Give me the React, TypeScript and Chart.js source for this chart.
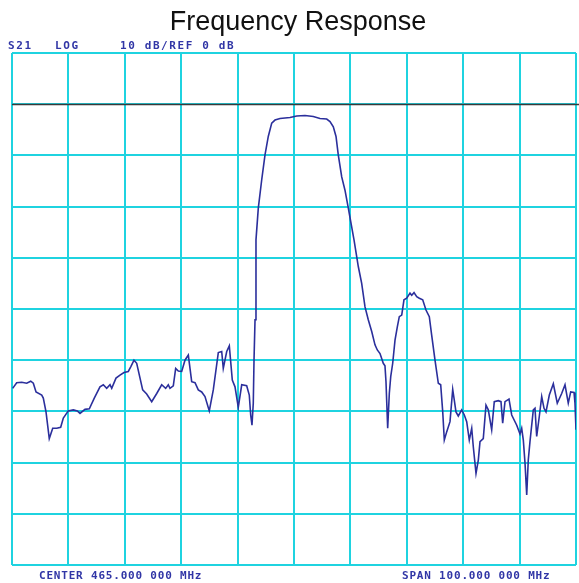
import React, { useEffect, useRef } from "react";
import { Chart, registerables } from "chart.js";

Chart.register(...registerables);

// ---- Data ----
const chartTitle = "Frequency Response";
const headerLabels = ["S21", "LOG", "10 dB/REF 0 dB"];
const footerLabels = ["CENTER 465.000 000 MHz", "SPAN 100.000 000 MHz"];

const centerMHz = 465;
const spanMHz = 100;
const refLevelDb = 0;
const dbPerDiv = 10;
const xDivisions = 10;

const freqMHz = [
  415.12, 415.83, 416.72, 417.61, 418.32, 418.78, 419.26, 420.27, 420.55, 421.03,
  421.61, 422.22, 422.93, 423.63, 424.1, 424.98, 425.87, 426.58, 427.06, 427.94,
  428.71, 429.59, 430.6, 431.19, 431.79, 432.38, 432.68, 433.44, 434.15, 434.86,
  435.62, 436.05, 436.63, 437.11, 438.17, 438.88, 439.77, 440.66, 441.54, 442.25,
  442.71, 443.01, 443.6, 444.02, 444.49, 445.09, 445.67, 446.26, 446.86, 447.45,
  448.03, 448.63, 449.22, 449.98, 450.69, 451.58, 452.18, 452.46, 453.07, 453.53,
  454.06, 454.54, 455.12, 455.73, 456.61, 457.07, 457.32, 457.55, 457.78, 457.91,
  458.09, 458.26, 458.67, 459.27, 459.86, 460.44, 461.05, 461.63, 462.52, 463.4,
  464.29, 465.48, 466.95, 468.42, 469.61, 470.8, 471.38, 471.97, 472.45, 472.85,
  473.46, 474.04, 474.63, 475.64, 476.4, 477.0, 477.59, 478.17, 478.78, 479.36,
  479.77, 480.25, 480.83, 481.13, 481.31, 481.61, 481.9, 482.15, 482.5, 482.91,
  483.32, 483.67, 484.1, 484.5, 484.98, 485.57, 485.87, 486.28, 486.76, 487.22,
  487.82, 488.4, 488.99, 489.41, 490.0, 490.59, 491.01, 491.37, 491.65, 492.07,
  492.66, 493.14, 493.42, 493.72, 494.13, 494.73, 495.2, 495.62, 496.08, 496.51,
  496.79, 497.27, 497.68, 497.98, 498.56, 499.04, 499.45, 500.05, 500.51, 501.22,
  501.7, 502.0, 502.41, 503.12, 503.6, 504.49, 505.07, 505.37, 505.66, 505.96,
  506.26, 506.54, 506.84, 507.43, 507.73, 508.03, 508.49, 508.92, 509.33, 509.68,
  510.27, 510.98, 511.68, 512.46, 513.05, 513.63, 514.06, 514.65, 514.82, 515.0,
];

const s21dB = [
  -55.5, -54.4, -54.3, -54.5, -54.1, -54.5, -56.2, -56.8, -57.4, -60.1,
  -65.3, -63.3, -63.3, -63.1, -61.3, -59.9, -59.7, -59.9, -60.4, -59.6,
  -59.5, -57.4, -55.2, -54.8, -55.5, -54.8, -55.5, -53.5, -52.9, -52.4,
  -52.2, -51.3, -50.0, -50.6, -55.8, -56.6, -58.1, -56.5, -54.8, -55.5,
  -54.8, -55.5, -55.0, -51.6, -52.1, -52.2, -50.0, -49.0, -54.2, -54.4,
  -55.8, -56.2, -57.1, -59.9, -55.8, -48.5, -48.3, -51.6, -48.3, -47.2,
  -53.9, -55.2, -59.2, -54.8, -55.0, -56.8, -60.7, -62.7, -58.4, -50.0,
  -42.1, -26.5, -20.3, -14.8, -9.9, -6.3, -3.7, -3.1, -2.8, -2.7,
  -2.6, -2.3, -2.2, -2.4, -2.8, -2.9, -3.4, -4.4, -6.3, -9.9,
  -14.2, -16.8, -20.3, -26.5, -31.7, -35.0, -39.6, -42.1, -44.4, -47.0,
  -48.0, -48.7, -50.6, -51.1, -54.2, -63.3, -56.5, -53.2, -50.6, -46.1,
  -43.5, -41.5, -41.2, -38.2, -37.9, -36.9, -37.3, -36.8, -37.6, -37.9,
  -38.2, -40.2, -41.5, -45.1, -50.0, -54.5, -54.8, -60.1, -65.6, -64.0,
  -62.0, -55.7, -57.8, -60.1, -60.9, -59.7, -60.7, -62.0, -65.6, -63.3,
  -66.9, -72.1, -69.5, -65.9, -65.3, -58.8, -59.7, -63.6, -58.1, -57.9,
  -58.1, -62.3, -58.1, -57.6, -60.7, -62.7, -64.4, -63.3, -65.6, -70.1,
  -76.3, -69.5, -65.9, -59.7, -59.4, -64.9, -61.0, -57.1, -59.4, -60.1,
  -56.8, -54.6, -58.4, -56.5, -54.8, -58.4, -56.2, -56.3, -58.4, -63.6,
];

const GRID_COLOR = "#1fd3e0";
const TRACE_COLOR = "#2b2f9c";
const LABEL_COLOR = "#3136a6";

export default function App() {
  const canvasRef = useRef<HTMLCanvasElement | null>(null);

  useEffect(() => {
    const canvas = canvasRef.current;
    if (!canvas) return;

    const xMin = centerMHz - spanMHz / 2;
    const xMax = centerMHz + spanMHz / 2;
    const yMax = refLevelDb + dbPerDiv;
    const yMin = yMax - dbPerDiv * 10;

    const textPlugin = {
      id: "analyzerText",
      beforeDatasetsDraw(chart: any) {
        const { ctx, chartArea, scales } = chart;
        const y = Math.round(scales.y.getPixelForValue(refLevelDb)) + 0.5;
        ctx.save();
        ctx.strokeStyle = "#3a3a3a";
        ctx.lineWidth = 1.5;
        ctx.beginPath();
        ctx.moveTo(chartArea.left, y);
        ctx.lineTo(chart.width, y);
        ctx.stroke();
        ctx.restore();
      },
      afterDraw(chart: any) {
        const { ctx, chartArea } = chart;
        ctx.save();
        // Title
        ctx.fillStyle = "#111";
        ctx.font = "27px 'Liberation Sans', Arial, sans-serif";
        ctx.textAlign = "center";
        ctx.textBaseline = "alphabetic";
        ctx.fillText(chartTitle, 298, 30);

        // Header labels
        ctx.textAlign = "left";
        ctx.fillStyle = LABEL_COLOR;
        ctx.font = "bold 11px 'DejaVu Sans Mono', monospace";
        (ctx as any).letterSpacing = "1.6px";
        const hx = [8, 55, 120];
        headerLabels.forEach((t, i) => ctx.fillText(t, hx[i], chartArea.top - 4));

        // Footer labels
        (ctx as any).letterSpacing = "0.8px";
        const fx = [39, 402];
        footerLabels.forEach((t, i) => ctx.fillText(t, fx[i], chartArea.bottom + 14));
        ctx.restore();
      },
    };

    const chart = new Chart(canvas, {
      type: "line",
      data: {
        datasets: [
          {
            label: "S21",
            data: freqMHz.map((f, i) => ({ x: f, y: s21dB[i] })),
            borderColor: TRACE_COLOR,
            borderWidth: 1.6,
            pointRadius: 0,
            tension: 0,
            fill: false,
          },
        ],
      },
      options: {
        responsive: true,
        maintainAspectRatio: false,
        animation: false,
        layout: { padding: { left: 12, right: 3, top: 53, bottom: 18 } },
        plugins: {
          legend: { display: false },
          title: { display: false },
          tooltip: { enabled: false },
        },
        scales: {
          x: {
            type: "linear",
            min: xMin,
            max: xMax,
            ticks: { display: false, stepSize: spanMHz / xDivisions },
            grid: { color: GRID_COLOR, lineWidth: 2, drawTicks: false },
            border: { display: false },
          },
          y: {
            type: "linear",
            min: yMin,
            max: yMax,
            ticks: { display: false, stepSize: dbPerDiv },
            grid: { color: GRID_COLOR, lineWidth: 2, drawTicks: false },
            border: { display: false },
          },
        },
      },
      plugins: [textPlugin],
    });

    return () => chart.destroy();
  }, []);

  return (
    <div style={{ position: "fixed", left: 0, top: 0, width: 579, height: 583, background: "#fff" }}>
      <canvas ref={canvasRef} />
    </div>
  );
}
